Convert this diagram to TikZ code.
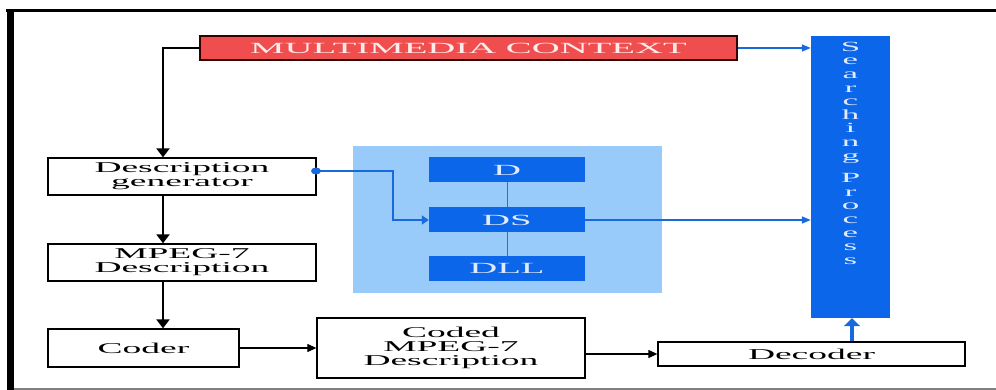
\documentclass[tikz,border=0pt]{standalone}
\usepackage{fontspec}
\usetikzlibrary{arrows.meta}
\newfontfamily\widefont[FakeStretch=2.5]{Liberation Serif}
\definecolor{mmred}{RGB}{240,78,78}
\definecolor{sblue}{RGB}{12,102,234}
\definecolor{pblue}{RGB}{152,202,250}
\definecolor{lblue}{RGB}{24,104,222}
\definecolor{vline}{RGB}{60,110,170}
\definecolor{btext}{RGB}{225,235,255}
\tikzset{
  wbox/.style={draw=black,line width=1.3pt,fill=white,inner sep=0pt,align=center,
    font=\widefont\fontsize{15}{14}\selectfont},
  bbox/.style={fill=sblue,inner sep=0pt,text=btext,font=\widefont\fontsize{15.5}{14}\selectfont},
  barrow/.style={line width=2pt,-{Triangle[length=9pt,width=13pt]}},
  tarrow/.style={line width=1.1pt,-{Triangle[length=9pt,width=8pt]}},
  blarrow/.style={lblue,line width=1.4pt,-{Triangle[length=9pt,width=7pt]}}
}
\begin{document}
\begin{tikzpicture}[x=1pt,y=-1pt]
\useasboundingbox (0,0) rectangle (996,390);
\fill[white] (0,0) rectangle (996,390);
% frame
\draw[line width=3pt] (6,11) -- (996,11);
\draw[line width=7pt] (10,10) -- (10,390);
\draw[gray,line width=1.5pt] (14,389) -- (996,389);
% panel
\node[fill=pblue,minimum width=309pt,minimum height=147pt,inner sep=0pt] (panel) at (507.5,219.5) {};
% nodes
\node[draw=black!80!red,line width=1.3pt,fill=mmred,text=white!92!red,inner sep=0pt,
  minimum width=537pt,minimum height=24pt,font=\widefont\fontsize{15.5}{14}\selectfont] (mm) at (468.5,48) {MULTIMEDIA CONTEXT};
\node[fill=sblue,minimum width=79pt,minimum height=282pt,inner sep=0pt,
  label={[anchor=north,yshift=-6pt,text=btext,align=center,inner sep=0pt,
  font=\widefont\fontsize{14}{13.6}\selectfont]north:{S\\e\\a\\r\\c\\h\\i\\n\\g\\[9pt]P\\r\\o\\c\\e\\s\\s}}] (sp) at (850.5,177) {};
\node[wbox,minimum width=268pt,minimum height=37pt] (dg) at (182,176.5) {Description\\generator};
\node[wbox,minimum width=268pt,minimum height=37pt] (mp) at (182,262.5) {MPEG-7\\Description};
\node[wbox,minimum width=191pt,minimum height=38pt] (cod) at (143.5,348) {Coder};
\node[wbox,minimum width=268pt,minimum height=60pt] (cmp) at (451,348) {Coded\\MPEG-7\\Description};
\node[wbox,minimum width=307pt,minimum height=24pt] (dec) at (811.5,354) {Decoder};
\draw[vline,line width=1.5pt] (507.5,182) -- (507.5,256);
\node[bbox,minimum width=156pt,minimum height=25pt] (D) at (507,170) {D};
\node[bbox,minimum width=156pt,minimum height=25pt] (DS) at (507,220) {DS};
\node[bbox,minimum width=156pt,minimum height=25pt] (DLL) at (507,268) {DLL};
% connectors
\coordinate (k1) at (163,48);
\draw[barrow] (mm.west) -- (k1) -- (dg.north -| k1);
\draw[barrow] (dg.south -| k1) -- (mp.north -| k1);
\draw[barrow] (mp.south -| k1) -- (cod.north -| k1);
\draw[tarrow] (cod.east) -- (cod.east -| cmp.west);
\draw[tarrow] (cmp.east |- dec.west) -- (dec.west);
\draw[blarrow] (mm.east) -- (mm.east -| sp.west);
\draw[blarrow] (DS.east) -- (DS.east -| sp.west);
\coordinate (k2) at (393,171);
\fill[lblue] (316,171) ellipse (5pt and 3.5pt);
\draw[lblue,line width=1.6pt,-{Triangle[length=7pt,width=9pt]}] (316,171) -- (k2) -- (k2 |- DS.west) -- (DS.west);
\draw[lblue,line width=4pt,-{Triangle[length=8pt,width=16pt]}] (dec.north -| 852,0) -- (sp.south -| 852,0);
\end{tikzpicture}
\end{document}
